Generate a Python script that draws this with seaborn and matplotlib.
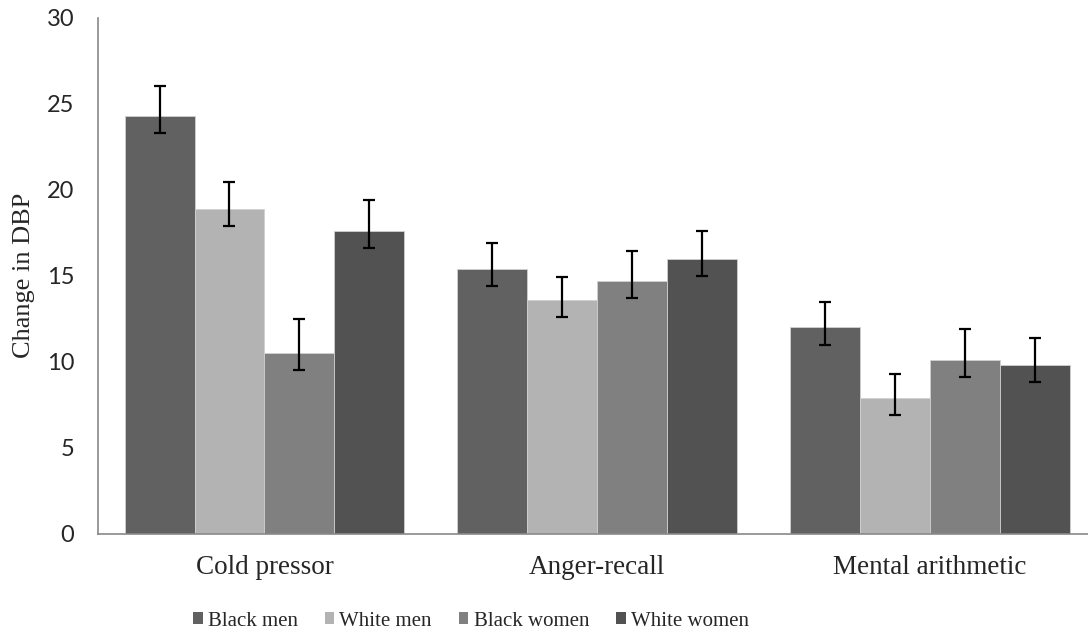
import matplotlib
matplotlib.use("Agg")
import matplotlib.pyplot as plt
import seaborn as sns
import pandas as pd
from matplotlib.patches import Patch

categories = ["Cold pressor", "Anger-recall", "Mental arithmetic"]
groups = ["Black men", "White men", "Black women", "White women"]
black_men = [24.3, 15.4, 12.0]
white_men = [18.9, 13.6, 7.9]
black_women = [10.5, 14.7, 10.1]
white_women = [17.6, 16.0, 9.8]
err_up_black_men = [1.7, 1.5, 1.45]
err_up_white_men = [1.55, 1.35, 1.4]
err_up_black_women = [2.0, 1.75, 1.8]
err_up_white_women = [1.8, 1.6, 1.6]
err_low = [1.0, 1.0, 1.0]
colors = ["#616161", "#b3b3b3", "#808080", "#525252"]
yticks = [0, 5, 10, 15, 20, 25, 30]

values = [black_men, white_men, black_women, white_women]
ups = [err_up_black_men, err_up_white_men, err_up_black_women, err_up_white_women]

rows = []
for g, vals in zip(groups, values):
    for c, v in zip(categories, vals):
        rows.append({"Task": c, "Group": g, "Value": v})
df = pd.DataFrame(rows)

sns.set_style("white")
fig = plt.figure(figsize=(10.88, 6.41), dpi=100)
ax = fig.add_axes([98 / 1088, 1 - 534 / 641, 998.5 / 1088, 516.5 / 641])

sns.barplot(data=df, x="Task", y="Value", hue="Group", order=categories,
            hue_order=groups, palette=colors, width=0.84, errorbar=None,
            edgecolor="#d0d0d0", linewidth=0.6, legend=False, ax=ax)

for cont, up in zip(ax.containers, ups):
    xs = [b.get_x() + b.get_width() / 2 for b in cont]
    hs = [b.get_height() for b in cont]
    ax.errorbar(xs, hs, yerr=[err_low, up], fmt="none", ecolor="black",
                elinewidth=1.6, capsize=4.5, capthick=1.6, zorder=5)

ax.set_ylim(0, 30)
ax.set_xlim(-0.5, 2.5)
ax.set_yticks(yticks)
ax.set_yticklabels([str(t) for t in yticks], fontfamily="Lato", fontsize=17)
ax.tick_params(axis="y", length=0, pad=17)
ax.tick_params(axis="x", length=0, pad=15)
for lbl in ax.get_xticklabels():
    lbl.set_fontfamily("Liberation Serif")
    lbl.set_fontsize(19.5)
ax.set_xlabel("")
ax.set_ylabel("Change in DBP", fontfamily="Liberation Serif", fontsize=19)
ax.yaxis.set_label_coords(-0.063, 0.5)

for s in ["top", "right"]:
    ax.spines[s].set_visible(False)
for s in ["left", "bottom"]:
    ax.spines[s].set_color("#898989")
    ax.spines[s].set_linewidth(1.2)

handles = [Patch(facecolor=c, edgecolor="none") for c in colors]
fig.legend(handles, groups, loc="center", bbox_to_anchor=(471 / 1088, 1 - 621 / 641),
           ncol=4, frameon=False, prop={"family": "Liberation Serif", "size": 15},
           handlelength=0.45, handleheight=0.45, handletextpad=0.25, columnspacing=1.3,
           borderaxespad=0)

fig.savefig("out.png", dpi=100)
